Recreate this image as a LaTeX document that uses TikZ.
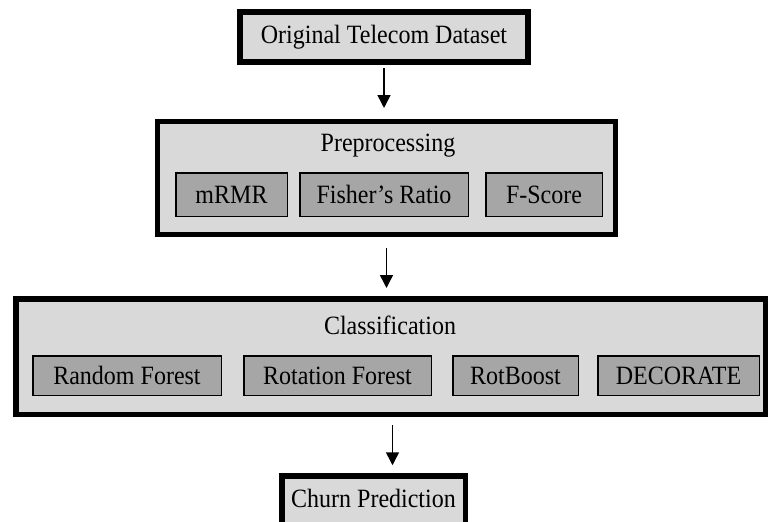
\documentclass[tikz,border=0pt]{standalone}
\usepackage{graphicx}
\usepackage{fontspec}
\setmainfont{Liberation Serif}
\usetikzlibrary{arrows.meta}
\definecolor{outerfill}{HTML}{D9D9D9}
\definecolor{innerfill}{HTML}{A6A6A6}
% slightly tall lettering for all labels
\newcommand\tallword[1]{\scalebox{1}[1.1]{#1}}
\begin{document}
\begin{tikzpicture}[x=1pt,y=-1pt,
  txt/.style={font=\fontsize{24}{28}\selectfont, inner sep=0pt},
  outerbox/.style={draw=black, fill=outerfill, line width=5.5pt, outer sep=0pt, inner sep=0pt, font=\fontsize{24}{28}\selectfont},
  innerbox/.style={draw=black, fill=innerfill, line width=1.5pt, outer sep=0pt, inner sep=0pt, font=\fontsize{24}{28}\selectfont},
  arr/.style={line width=1.5pt, -{Triangle[width=13pt,length=13pt]}}]
\useasboundingbox (0,0) rectangle (769,522);

% input data
\node[outerbox, minimum width=288pt, minimum height=50pt] (data) at (384,37) {\tallword{Original Telecom Dataset}};

% feature selection stage
\node[outerbox, minimum width=458pt, minimum height=113pt] (pre) at (386.5,178) {};
\node[txt] (pretitle) at (388,146) {\tallword{Preprocessing}};
\node[innerbox, minimum width=111.5pt, minimum height=43.5pt] (mrmr) at (231.5,194.5) {\tallword{mRMR}};
\node[innerbox, minimum width=168.5pt, minimum height=43.5pt] (fisher) at (384,194.5) {\tallword{Fisher’s Ratio}};
\node[innerbox, minimum width=116.5pt, minimum height=43.5pt] (fscore) at (544,194.5) {\tallword{F-Score}};

% classifier stage
\node[outerbox, minimum width=749.5pt, minimum height=115.5pt] (cls) at (390.5,356.5) {};
\node[txt] (clstitle) at (390,325) {\tallword{Classification}};
\node[innerbox, minimum width=188.5pt, minimum height=39.5pt] (rf) at (127,375.5) {\tallword{Random Forest}};
\node[innerbox, minimum width=187.5pt, minimum height=39.5pt] (rotf) at (337.5,375.5) {\tallword{Rotation Forest}};
\node[innerbox, minimum width=125.5pt, minimum height=39.5pt] (rotb) at (515.5,375.5) {\tallword{RotBoost}};
\node[innerbox, minimum width=161.5pt, minimum height=39.5pt] (deco) at (678.5,375.5) {\tallword{DECORATE}};

% output
\node[outerbox, minimum width=183.5pt, minimum height=56pt] (churn) at (373.5,504) {};
\node[txt] (churntext) at (373.5,498) {\tallword{Churn Prediction}};

% flow arrows, each dropped straight down
\coordinate (a1) at ([yshift=-6pt]data.south);
\coordinate (b1) at ([yshift=13.5pt]pre.north);
\draw[arr] (a1) -- (a1 |- b1);
\coordinate (a2) at ([yshift=-13.5pt]pre.south);
\coordinate (b2) at ([yshift=10.75pt]cls.north);
\draw[arr] (a2) -- (a2 |- b2);
\coordinate (a3) at ([xshift=2pt,yshift=-10.75pt]cls.south);
\coordinate (b3) at ([yshift=10.75pt]churn.north);
\draw[arr] (a3) -- (a3 |- b3);
\end{tikzpicture}
\end{document}
